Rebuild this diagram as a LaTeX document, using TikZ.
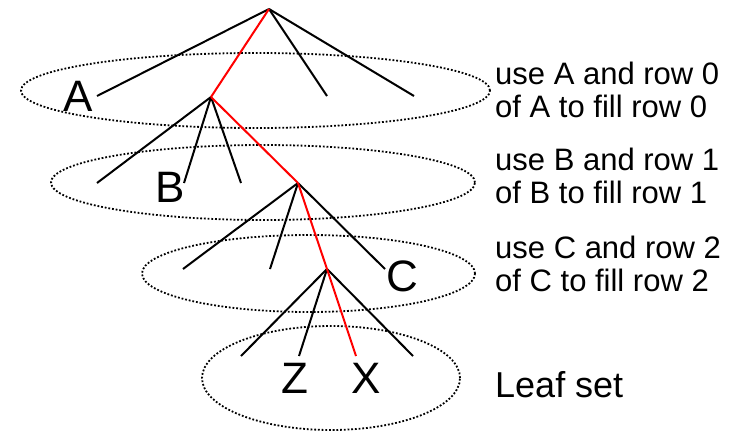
\documentclass[tikz,border=0pt]{standalone}
\usepackage{fontspec}
\setmainfont{Liberation Sans}
\usetikzlibrary{shapes,positioning}
\definecolor{routecolor}{RGB}{255,0,0}

\begin{document}
\begin{tikzpicture}[
    x=1pt, y=-1pt,
    ring/.style={ellipse, draw=black, line width=1.8pt, dash pattern=on 1.8pt off 1.9pt, inner sep=0pt, outer sep=0pt},
    branch/.style={line width=2pt, black},
    route/.style={line width=2pt, routecolor},
    tag/.style={font=\fontsize{44}{44}\selectfont, inner sep=0pt},
    note/.style={font=\fontsize{31}{33}\selectfont, align=left, anchor=west, inner sep=0pt}
]
\useasboundingbox (0,0) rectangle (740,432);

% Rows
\node[ring, minimum width=469pt, minimum height=75pt] (row0) at (255.5,90.5) {};
\node[ring, minimum width=424pt, minimum height=75pt] (row1) at (263,182.5) {};
\node[ring, minimum width=333pt, minimum height=77pt] (row2) at (308.5,273.5) {};
\node[ring, minimum width=258pt, minimum height=104pt] (leafset) at (331,378) {};

% Tree points
\coordinate (root) at (269,9);
\coordinate (n1) at (211,97);
\coordinate (a1) at (97,96);
\coordinate (a2) at (327,96);
\coordinate (a3) at (414,96);
\coordinate (n2) at (298,183);
\coordinate (b1) at (97,183);
\coordinate (b2) at (184,183);
\coordinate (b3) at (241,183);
\coordinate (n3) at (327,269);
\coordinate (c1) at (183,269);
\coordinate (c2) at (270,269);
\coordinate (c3) at (385,269);
\coordinate (d1) at (241,356);
\coordinate (d2) at (299,356);
\coordinate (dx) at (356,356);
\coordinate (d4) at (413,356);

% Branches
\draw[branch] (root) -- (a1);
\draw[branch] (root) -- (a2);
\draw[branch] (root) -- (a3);
\draw[branch] (n1) -- (b1);
\draw[branch] (n1) -- (b2);
\draw[branch] (n1) -- (b3);
\draw[branch] (n2) -- (c1);
\draw[branch] (n2) -- (c2);
\draw[branch] (n2) -- (c3);
\draw[branch] (n3) -- (d1);
\draw[branch] (n3) -- (d2);
\draw[branch] (n3) -- (d4);

% Route to X
\draw[route] (root) -- (n1);
\draw[route] (n1) -- (n2);
\draw[route] (n2) -- (n3);
\draw[route] (n3) -- (dx);

% Labels
\node[tag] (tagA) at (78,96) {A};
\node[tag] (tagB) at (170,187) {B};
\node[tag] (tagC) at (402,276) {C};
\node[tag] (tagZ) at (295,378) {Z};
\node[tag] (tagX) at (366,378) {X};

% Notes
\node[note] (noteA) at (495,90) {use A and row 0\\of A to fill row 0};
\node[note] (noteB) at (495,176) {use B and row 1\\of B to fill row 1};
\node[note] (noteC) at (495,264) {use C and row 2\\of C to fill row 2};
\node[note, font=\fontsize{36}{36}\selectfont] (noteLeaf) at (495,385) {Leaf set};

\end{tikzpicture}
\end{document}
